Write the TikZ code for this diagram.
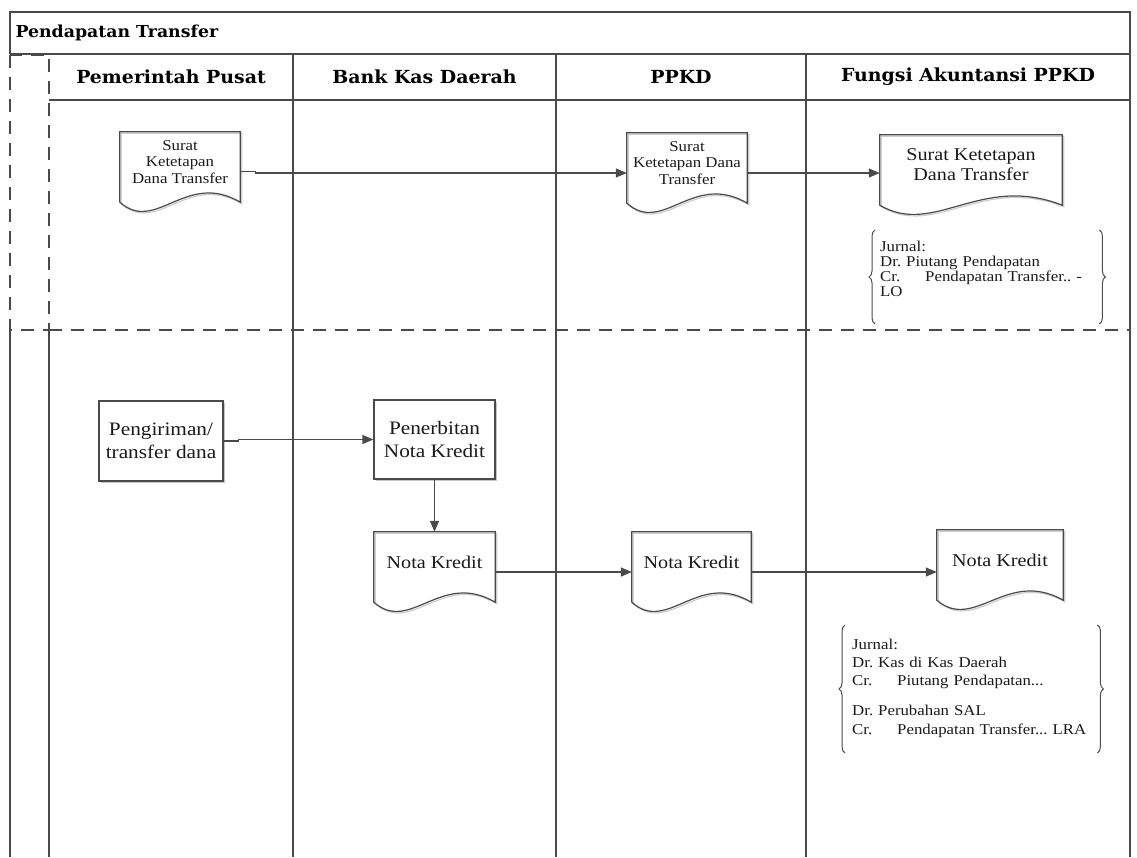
\documentclass[tikz,border=0pt]{standalone}
\usepackage{fontspec}
\setmainfont{Liberation Serif}[FakeStretch=1.12]
\newfontfamily\hdfont{DejaVu Serif}[FakeStretch=1.05]
\usetikzlibrary{arrows.meta,calc,decorations.pathreplacing,shadows}
\definecolor{lncol}{HTML}{4A4A4A}
\definecolor{txt}{HTML}{1A1A1A}
\frenchspacing
\newcommand\bigtxt{\fontsize{18}{20}\selectfont}
\newcommand\proctxt{\fontsize{19}{23}\selectfont}
\newcommand\smtxt{\fontsize{15}{16.5}\selectfont}
\newcommand\crtab[1]{\makebox[45pt][l]{#1}}
\newcommand\docoutline[1]{%
  \coordinate (#1-se) at ($(#1.south east)+(0,10)$);
  \coordinate (#1-sw) at ($(#1.south west)+(0,10)$);
  \draw[docshadow, transform canvas={xshift=1.5pt,yshift=-1.5pt}] (#1.north west) -- (#1.north east) -- (#1-se)
    .. controls ($(#1-se)!0.45!(#1-sw)+(0,-32)$) and ($(#1-se)!0.7!(#1-sw)+(0,32)$) .. (#1-sw) -- cycle;
  \draw[docline] (#1.north west) -- (#1.north east) -- (#1-se)
    .. controls ($(#1-se)!0.45!(#1-sw)+(0,-32)$) and ($(#1-se)!0.7!(#1-sw)+(0,32)$) .. (#1-sw) -- cycle;
}
\begin{document}
\begin{tikzpicture}[x=1pt,y=-1pt,
  frame/.style={draw=lncol, line width=1.4pt},
  dashline/.style={draw=lncol, line width=2pt, dash pattern=on 13pt off 9pt},
  hdr/.style={font=\hdfont\bfseries\fontsize{18}{20}\selectfont, text=black},
  docbox/.style={minimum height=60pt, inner sep=1pt, align=center, text=txt, font=\smtxt},
  docline/.style={draw=lncol, line width=1.2pt},
  docshadow/.style={draw=gray!40, line width=1.2pt},
  procbox/.style={draw=lncol, line width=1.2pt, fill=white, align=center, text=txt, font=\proctxt,
    drop shadow={shadow xshift=1.8pt, shadow yshift=-1.8pt, fill=gray!45, opacity=1}},
  flow/.style={draw=lncol, line width=1.3pt, -{Triangle[length=11pt,width=9pt]}},
  jurnal/.style={align=left, anchor=north west, text=txt, inner ysep=5pt},
  brc/.style={draw=gray!60!black, line width=1pt, decorate, decoration={brace, amplitude=6pt}}
]
\useasboundingbox (0,0) rectangle (1137,857);

% frame and lanes
\draw[frame] (10,54) -- (10,12) -- (1130,12) -- (1130,857);
\draw[frame] (10,54) -- (1130,54);
\draw[frame] (49,100) -- (1130,100);
\draw[frame] (10,330) -- (10,857);
\draw[frame] (49,330) -- (49,857);
\foreach \x in {293,556,806} \draw[frame] (\x,54) -- (\x,857);
\draw[dashline] (10,55) rectangle (49,330);
\draw[dashline] (49,330) -- (1130,330);

% titles
\node[anchor=west, font=\hdfont\bfseries\fontsize{16.5}{20}\selectfont, text=black] (title) at (12,33) {Pendapatan Transfer};
\node[hdr] (h1) at (171,77) {Pemerintah Pusat};
\node[hdr] (h2) at (424.5,77) {Bank Kas Daerah};
\node[hdr] (h3) at (681,77) {PPKD};
\node[hdr] (h4) at (968,77) {Fungsi Akuntansi PPKD};

% documents
\node[docbox, minimum width=120pt] (d1) at (180,162) {Surat\\Ketetapan\\Dana Transfer};
\node[docbox, minimum width=120pt] (d2) at (687,163) {Surat\\Ketetapan Dana\\Transfer};
\node[docbox, minimum width=182pt, font=\bigtxt] (d3) at (971,165) {Surat Ketetapan\\Dana Transfer};
\node[docbox, minimum width=121pt, font=\bigtxt] (nk1) at (434.5,562) {Nota Kredit};
\node[docbox, minimum width=119pt, font=\bigtxt] (nk2) at (691.5,562) {Nota Kredit};
\node[docbox, minimum width=126pt, font=\bigtxt] (nk3) at (1000,560) {Nota Kredit};
\docoutline{d1}
\docoutline{d2}
\docoutline{d3}
\docoutline{nk1}
\docoutline{nk2}
\docoutline{nk3}

% processes
\node[procbox, minimum width=124pt, minimum height=80pt] (p1) at (161,441) {Pengiriman/\\transfer dana};
\node[procbox, minimum width=121pt, minimum height=79pt] (p2) at (434.5,439.5) {Penerbitan\\Nota Kredit};

% journals
\node[jurnal, text width=214pt, inner xsep=5pt, font=\fontsize{15}{15}\selectfont] (j1) at (875,235.5)
  {Jurnal:\\Dr. Piutang Pendapatan\\\crtab{Cr.}Pendapatan Transfer.. -\\LO};
\draw[brc] ($(j1.south west)+(0,22.5)$) -- ([yshift=5.5pt]j1.north west);
\draw[brc] ([yshift=5.5pt]j1.north east) -- ($(j1.south east)+(0,22.5)$);

\node[jurnal, text width=238pt, inner xsep=7pt, font=\fontsize{15}{18.3}\selectfont] (j2) at (845,633.5)
  {Jurnal:\\Dr. Kas di Kas Daerah\\\crtab{Cr.}Piutang Pendapatan...\\[11.7pt]Dr. Perubahan SAL\\\crtab{Cr.}Pendapatan Transfer... LRA};
\draw[brc] ($(j2.south west)+(0,10.5)$) -- ([yshift=8.5pt]j2.north west);
\draw[brc] ([yshift=8.5pt]j2.north east) -- ($(j2.south east)+(0,10.5)$);

% connectors
\draw[flow] ([yshift=-9.5pt]d1.east) -- ++(15,0) |- ([yshift=-10pt]d2.west);
\draw[flow] ([yshift=-10pt]d2.east) -- ([yshift=-10pt]d2.east -| d3.west);
\draw[flow] (p1.east) -- ++(15,0) |- (p2.west);
\draw[flow] (p2.south) -- (nk1.north);
\draw[flow] ([yshift=-10pt]nk1.east) -- ([yshift=-10pt]nk1.east -| nk2.west);
\draw[flow] ([yshift=-10pt]nk2.east) -- ([yshift=-10pt]nk2.east -| nk3.west);
\end{tikzpicture}
\end{document}
